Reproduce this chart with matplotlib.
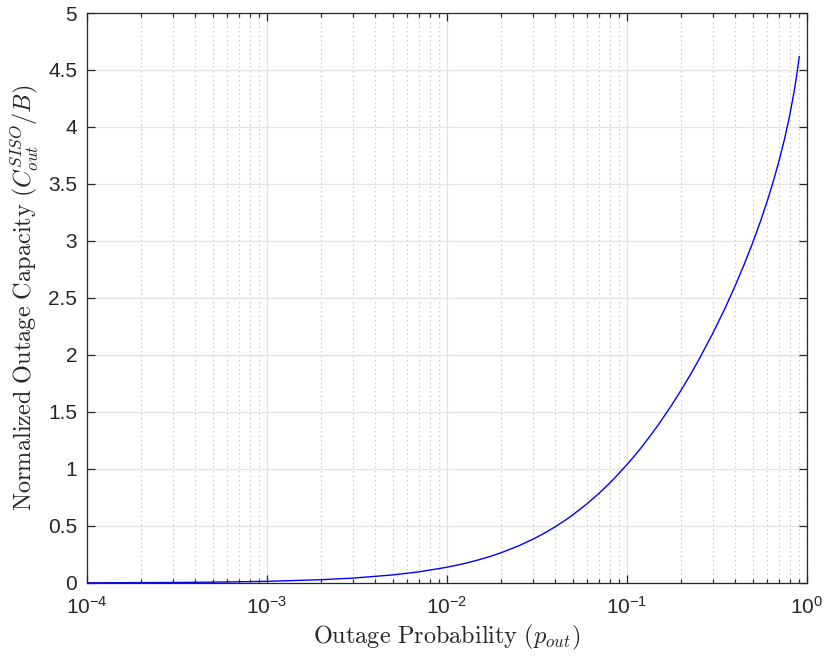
import matplotlib
matplotlib.use("Agg")
import matplotlib.pyplot as plt
from matplotlib.ticker import FixedLocator, LogLocator, NullFormatter

plt.rcParams['mathtext.fontset'] = 'custom'
plt.rcParams['mathtext.rm'] = 'cmr10'
plt.rcParams['mathtext.it'] = 'cmmi10'
plt.rcParams['mathtext.bf'] = 'cmb10'
plt.rcParams['mathtext.sf'] = 'Liberation Sans'
plt.rcParams['font.family'] = ['Liberation Sans', 'DejaVu Sans']

# outage probability and normalized outage capacity
p_out = [1e-4, 2e-4, 3e-4, 5e-4, 1e-3, 2e-3, 3e-3, 5e-3, 7e-3, 0.01, 0.0125,
         0.015, 0.0175, 0.02, 0.025, 0.03, 0.035, 0.04, 0.045, 0.05, 0.06,
         0.07, 0.08, 0.085, 0.1, 0.11, 0.12, 0.135, 0.15, 0.175, 0.2, 0.225,
         0.25, 0.3, 0.35, 0.4, 0.45, 0.5, 0.55, 0.6, 0.65, 0.7, 0.75, 0.8,
         0.85, 0.875, 0.9, 0.905]
c_out = [0.0014, 0.0029, 0.0043, 0.0072, 0.0144, 0.0286, 0.0427, 0.0706,
         0.0980, 0.1382, 0.1709, 0.2031, 0.2346, 0.2655, 0.3256, 0.3836,
         0.4396, 0.4939, 0.5464, 0.5974, 0.6949, 0.7872, 0.8748, 0.9171,
         1.0382, 1.1146, 1.1880, 1.2929, 1.3924, 1.5478, 1.6922, 1.8274,
         1.9549, 2.1912, 2.4081, 2.6108, 2.8029, 2.9876, 3.1675, 3.3452,
         3.5233, 3.7048, 3.8936, 4.0955, 4.3199, 4.4459, 4.5866, 4.617]

x_ticks = [1e-4, 1e-3, 1e-2, 1e-1, 1]
x_labels = [r'$\mathsf{10^{-4}}$', r'$\mathsf{10^{-3}}$', r'$\mathsf{10^{-2}}$',
            r'$\mathsf{10^{-1}}$', r'$\mathsf{10^{0}}$']
y_ticks = [0, 0.5, 1, 1.5, 2, 2.5, 3, 3.5, 4, 4.5, 5]
y_labels = ['0', '0.5', '1', '1.5', '2', '2.5', '3', '3.5', '4', '4.5', '5']

fig = plt.figure(figsize=(8.26, 6.6), dpi=100)
ax = fig.add_axes([0.1053, 0.1167, 0.8717, 0.8636])

ax.semilogx(p_out, c_out, color='#0000ff', lw=1.0)

ax.set_xlim(1e-4, 1)
ax.set_ylim(0, 5)
ax.xaxis.set_major_locator(FixedLocator(x_ticks))
ax.set_xticklabels(x_labels)
ax.xaxis.set_minor_locator(LogLocator(base=10, subs=range(2, 10)))
ax.xaxis.set_minor_formatter(NullFormatter())
ax.set_yticks(y_ticks)
ax.set_yticklabels(y_labels)

ax.grid(True, which='major', color='#e3e3e3', lw=0.9, ls='-')
ax.grid(True, which='minor', axis='x', color='#b8b8b8', lw=0.8, ls=(0, (1, 3)))
ax.set_axisbelow(True)

ax.tick_params(which='both', direction='in', top=True, right=True,
               colors='#262626', labelsize=15, width=0.9)
ax.tick_params(which='major', length=6)
ax.tick_params(which='minor', length=3)
ax.tick_params(axis='y', which='major', pad=7)
ax.tick_params(axis='x', which='major', pad=9)
for s in ax.spines.values():
    s.set_color('#262626')
    s.set_linewidth(0.9)

ax.set_xlabel(r'$\mathrm{Outage\ Probability}\ (p_{out})$', fontsize=17.5,
              color='#262626', labelpad=4)
ax.set_ylabel(r'$\mathrm{Normalized\ Outage\ Capacity}\ (C_{out}^{SISO}/B)$',
              fontsize=17.5, color='#262626', labelpad=5)

fig.savefig('out.png', dpi=100)
